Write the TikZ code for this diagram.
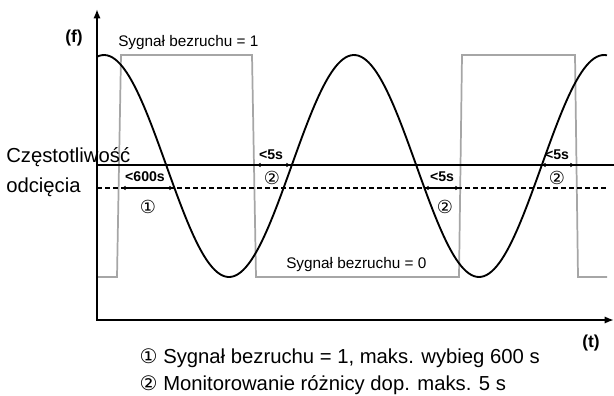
\documentclass[tikz,border=0pt]{standalone}
\usepackage{fontspec}
\setmainfont{Liberation Sans}
\newfontfamily\circfont{DejaVu Sans}
\usepackage{tikz}
\usetikzlibrary{arrows.meta}
\definecolor{wavegray}{RGB}{166,166,166}

\tikzset{
  axisline/.style={line width=1.5pt, {Latex[length=7pt,width=5.5pt]}-{Latex[length=7pt,width=5.5pt]}},
  cutline/.style={line width=1.4pt},
  dimarrow/.style={line width=0.8pt, {Latex[length=3.5pt,width=3.5pt]}-{Latex[length=3.5pt,width=3.5pt]}},
  dimlabel/.style={font=\bfseries\fontsize{10.6}{12}\selectfont, inner sep=0pt},
  circmark/.style={font=\circfont\fontsize{13.5}{15}\selectfont, inner sep=0pt},
  plainlabel/.style={font=\fontsize{11.5}{13}\selectfont, inner sep=0pt, anchor=base west},
  biglabel/.style={font=\fontsize{15.2}{18}\selectfont, inner sep=0pt, anchor=base west},
  axislabel/.style={font=\bfseries\fontsize{13}{15}\selectfont, inner sep=0pt}
}

\begin{document}
\begin{tikzpicture}[x=0.75pt, y=-0.75pt]
  \useasboundingbox (0,0) rectangle (614,396);

  % axes
  \coordinate (orig) at (97,320);
  \coordinate (ftip) at (97,9);
  \coordinate (ttip) at (614,320);

  % standstill signal
  \draw[wavegray, line width=1.3pt] (97,277) -- (117,277) -- (121,55) -- (252,55)
    -- (256,277) -- (459,277) -- (462,55) -- (575,55) -- (578,277) -- (607,277);

  % cut-off frequency lines
  \coordinate (cutL) at (97,165);
  \coordinate (cutR) at (614,165);
  \coordinate (dashL) at (97,188);
  \coordinate (dashR) at (607,188);
  \draw[cutline] (cutL) -- (cutR);
  \draw[line width=1.1pt, dash pattern=on 3.8pt off 2.2pt] (dashL) -- (dashR);

  % frequency
  \draw[line width=1.4pt, domain=97:607, samples=200, smooth]
    plot (\x, {166-111*cos(1.44*(\x-104))});

  \draw[axisline] (ftip) -- (orig) -- (ttip);

  % time limits
  \coordinate (d1a) at (121,188);
  \coordinate (d1b) at (174,188);
  \coordinate (d2a) at (256,165);
  \coordinate (d2b) at (291,165);
  \coordinate (d3a) at (424,188);
  \coordinate (d3b) at (460,188);
  \coordinate (d4a) at (541,165);
  \coordinate (d4b) at (575,165);
  \draw[dimarrow] (d1a) -- (d1b);
  \draw[dimarrow] (d2a) -- (d2b);
  \draw[dimarrow] (d3a) -- (d3b);
  \draw[dimarrow] (d4a) -- (d4b);
  \node[dimlabel] (d1txt) at (145,177) {<600s};
  \node[dimlabel] (d2txt) at (271,155) {<5s};
  \node[dimlabel] (d3txt) at (442,177) {<5s};
  \node[dimlabel] (d4txt) at (557,155) {<5s};
  \node[circmark] (d1num) at (148,207) {①};
  \node[circmark] (d2num) at (272,178) {②};
  \node[circmark] (d3num) at (445,207) {②};
  \node[circmark] (d4num) at (557,178) {②};

  % labels
  \node[axislabel, anchor=base] (flbl) at (74,42) {(f)};
  \node[axislabel, anchor=base west] (tlbl) at (582,347) {(t)};
  \node[plainlabel] (sig1) at (118,46) {Sygnał bezruchu = 1};
  \node[plainlabel] (sig0) at (286,268) {Sygnał bezruchu = 0};
  \node[biglabel] (cut1) at (6,162) {Częstotliwość};
  \node[biglabel] (cut2) at (6,192) {odcięcia};

  % legend
  \node[circmark, font=\circfont\fontsize{15}{17}\selectfont] (leg1num) at (148.5,356) {①};
  \node[biglabel] (leg1) at (163,363) {Sygnał bezruchu = 1, maks. wybieg 600 s};
  \node[circmark, font=\circfont\fontsize{15}{17}\selectfont] (leg2num) at (148.5,383) {②};
  \node[biglabel] (leg2) at (163,390) {Monitorowanie różnicy dop. maks. 5 s};
\end{tikzpicture}
\end{document}
